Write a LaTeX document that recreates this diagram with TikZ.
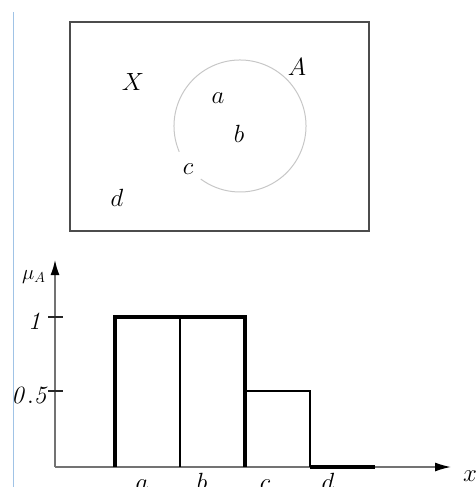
\documentclass[tikz,border=0pt]{standalone}
\usetikzlibrary{arrows.meta}
\begin{document}
\begin{tikzpicture}[x=1pt,y=-1pt,
  lbl/.style={inner sep=0pt,font=\fontsize{26}{28}\selectfont},
  ticklbl/.style={inner sep=0pt,font=\fontsize{25}{28}\selectfont},
  thickbar/.style={line width=3.2pt,black},
  thinbar/.style={line width=2pt,black},
  axis/.style={line width=1.5pt,draw=black!55},
  tick/.style={line width=1.3pt,draw=black!85}]
\useasboundingbox (0,0) rectangle (476,487);
\clip (0,0) rectangle (476,487);
% margin line
\draw[line width=0.8pt,draw={rgb,255:red,160;green,195;blue,230}] (13.5,12) -- (13.5,487);
% universe rectangle
\draw[line width=1.4pt,draw=black!70] (70,22) rectangle (369,231);
% circle A with gap
\draw[line width=1pt,draw=black!22] (240,126) ++(157:66) arc[start angle=157,end angle=486.5,radius=66];
\node[lbl,anchor=base] (X) at (133,90) {$X$};
\node[lbl,anchor=base] (A) at (297,75) {$A$};
\node[lbl,anchor=base] (a) at (218,103) {$a$};
\node[lbl,anchor=base] (b) at (239,142) {$b$};
\node[lbl,anchor=base] (c) at (188,174) {$c$};
\node[lbl,anchor=base] (d) at (117,206) {$d$};
% axes
\draw[axis,-{Latex[length=15pt,width=9pt,black]}] (55,467) -- (55,260);
\draw[axis,-{Latex[length=16pt,width=9pt,black]}] (55,467) -- (451,467);
\draw[tick] (48,317) -- (63,317);
\draw[tick] (48,391) -- (63,391);
\node[ticklbl,anchor=base] (one) at (36,329) {$\mathit{1}$};
\node[ticklbl,anchor=base east] (half) at (50,403) {$\mathit{0.5}$};
\node[inner sep=0pt,anchor=base west,font=\fontsize{22}{24}\selectfont] (mu) at (22,279) {$\mu_A$};
% bars
\draw[thickbar] (115,467) -- (115,317) -- (245,317) -- (245,467);
\draw[thinbar] (180,317) -- (180,467);
\draw[thinbar] (245,391) -- (310,391) -- (310,467);
\draw[thickbar] (310,467) -- (375,467);
% x labels (cut by the bottom edge, as in the reference)
\node[lbl,anchor=base] (xa) at (142,490) {$a$};
\node[lbl,anchor=base] (xb) at (202,490) {$b$};
\node[lbl,anchor=base] (xc) at (265,490) {$c$};
\node[lbl,anchor=base] (xd) at (328,490) {$d$};
\node[lbl,anchor=base west] (xx) at (463,481) {$x$};
\end{tikzpicture}
\end{document}
